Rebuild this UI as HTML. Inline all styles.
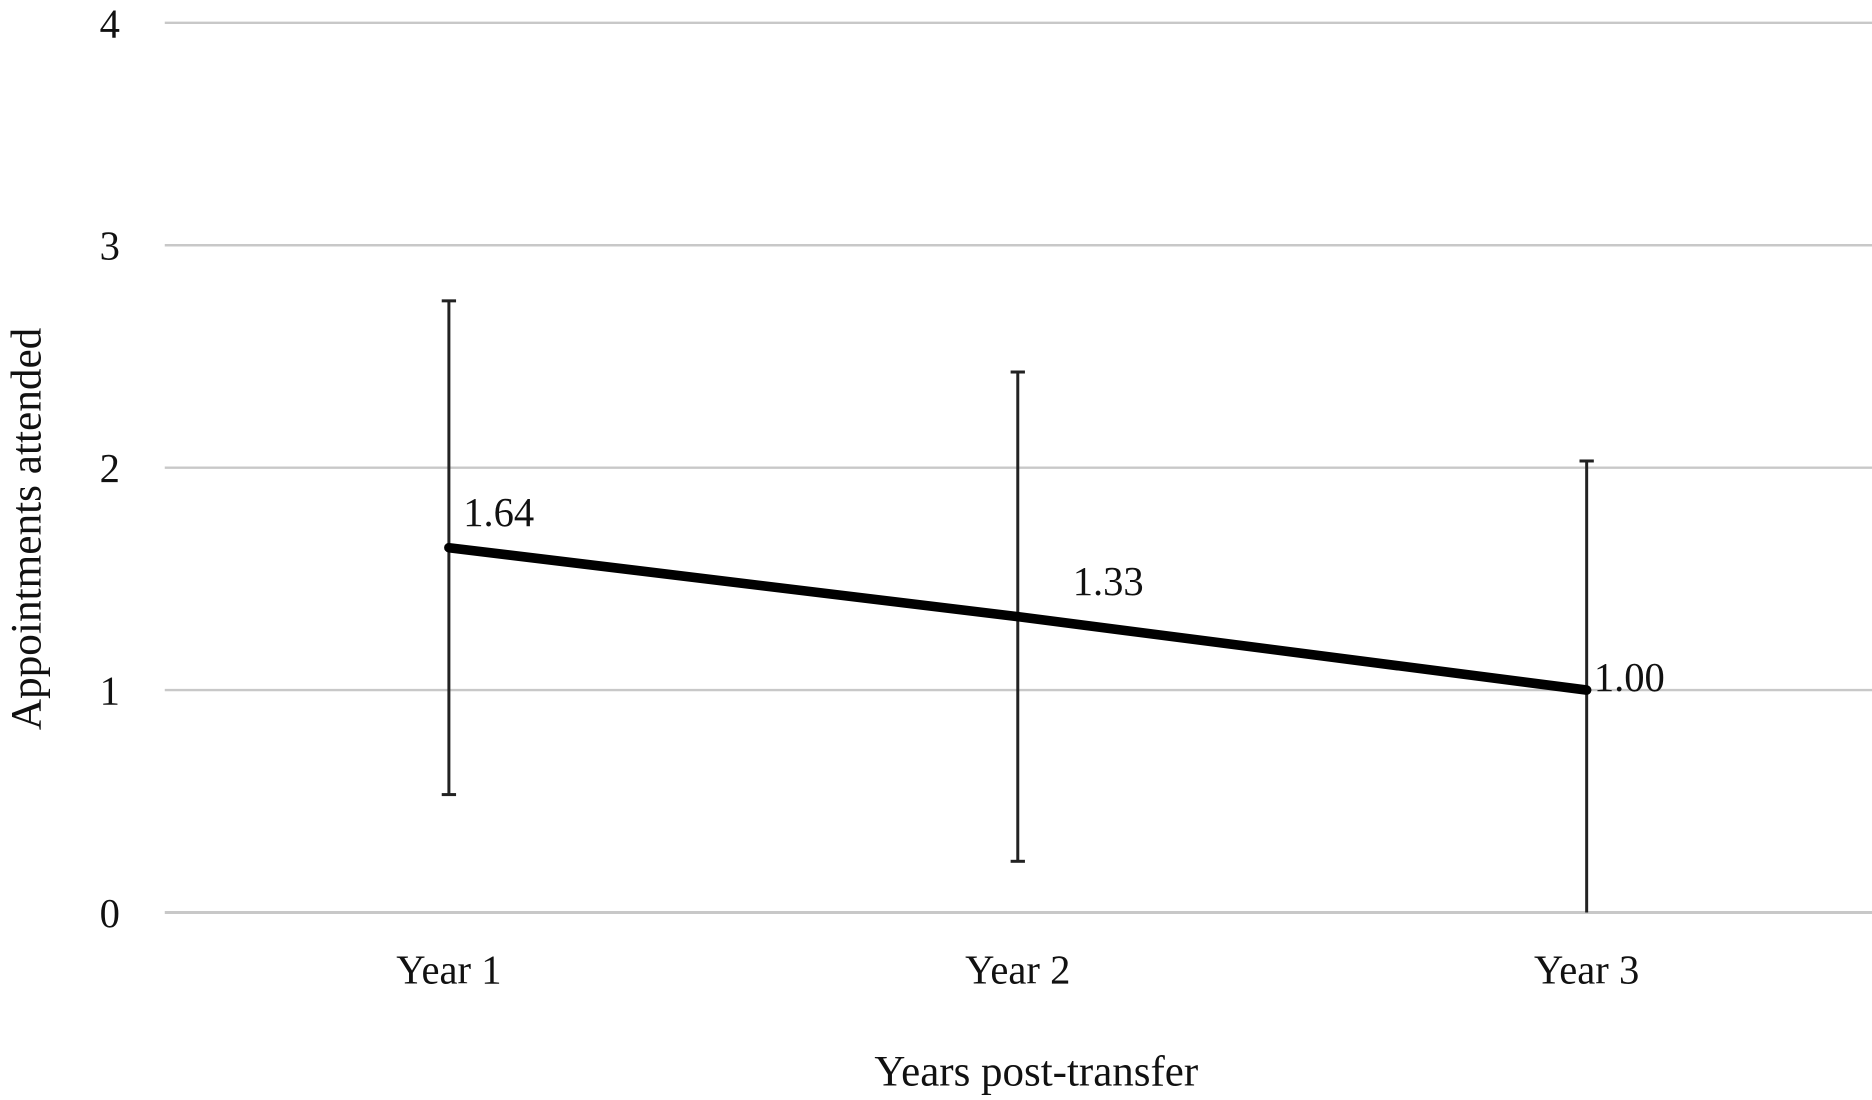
<!DOCTYPE html>
<html><head><meta charset="utf-8"><style>html,body{margin:0;padding:0;background:#fff;}svg{display:block;}</style></head>
<body>
<svg id="chart" width="1872" height="1100" viewBox="0 0 1568 915" preserveAspectRatio="none" xmlns="http://www.w3.org/2000/svg" font-family="'Liberation Serif', serif">
<g id="grid"></g>
<g id="yticks"></g>
<g id="xticks"></g>
<g id="errs"></g>
<g id="series"></g>
<g id="labels"></g>
<text transform="translate(34,440) rotate(-90)" text-anchor="middle" font-size="36" fill="#111">Appointments attended</text>
<text x="868" y="903" text-anchor="middle" font-size="36" fill="#111">Years post-transfer</text>
</svg>
<script>
const categories = ["Year 1", "Year 2", "Year 3"];
const values = [1.64, 1.33, 1.00];
const errLow = [0.53, 0.23, 0.0];
const errHigh = [2.75, 2.43, 2.03];
const yTicks = [0, 1, 2, 3, 4];
const valueLabels = ["1.64", "1.33", "1.00"];

const NS = "http://www.w3.org/2000/svg";
const X0 = 138, X1 = 1568, Y0 = 759, Y4 = 19;
function yScale(v){ return Y0 - (Y0 - Y4) * v / 4; }
function xScale(i){ return 376 + i * 476.5; }
function mk(tag, attrs, parent){ const e = document.createElementNS(NS, tag); for (const k in attrs) e.setAttribute(k, attrs[k]); parent.appendChild(e); return e; }

const grid = document.getElementById('grid');
const yt = document.getElementById('yticks');
yTicks.forEach(t => {
  const l = mk('line', {x1:X0, x2:X1, y1:yScale(t), y2:yScale(t), stroke:'#c8c8c8', 'stroke-width': t===0?2.5:2}, grid);
  
  
  const tx = mk('text', {x:92, y:yScale(t)+12, 'text-anchor':'middle', 'font-size':34, fill:'#111'}, yt);
  tx.textContent = t;
  
  
});
const xt = document.getElementById('xticks');
categories.forEach((c, i) => {
  const tx = mk('text', {x:xScale(i), y:818, 'text-anchor':'middle', 'font-size':34, fill:'#111'}, xt);
  tx.textContent = c;
  
  
});
const errs = document.getElementById('errs');
categories.forEach((c, i) => {
  const x = xScale(i), yl = yScale(errLow[i]), yh = yScale(errHigh[i]);
  const g = mk('g', {stroke:'#222', 'stroke-width':2.5}, errs);
  
  
  mk('line', {x1:x, x2:x, y1:yl, y2:yh}, g);
  mk('line', {x1:x-6, x2:x+6, y1:yh, y2:yh}, g);
  if (errLow[i] > 0) mk('line', {x1:x-6, x2:x+6, y1:yl, y2:yl}, g);
});
const series = document.getElementById('series');
const pts = values.map((v, i) => xScale(i) + ',' + yScale(v)).join(' ');
const pl = mk('polyline', {points:pts, fill:'none', stroke:'#000', 'stroke-width':8, 'stroke-linecap':'round', 'stroke-linejoin':'round'}, series);


const labels = document.getElementById('labels');
const offs = [[12,-18],[46,-18],[6,0]];
values.forEach((v, i) => {
  const tx = mk('text', {x:xScale(i)+offs[i][0], y:yScale(v)+offs[i][1]+(i===2?0:0), 'font-size':34, fill:'#111'}, labels);
  if (i===2) tx.setAttribute('y', yScale(v)+1);
  tx.textContent = valueLabels[i];
  
  
});
</script>
</body></html>
